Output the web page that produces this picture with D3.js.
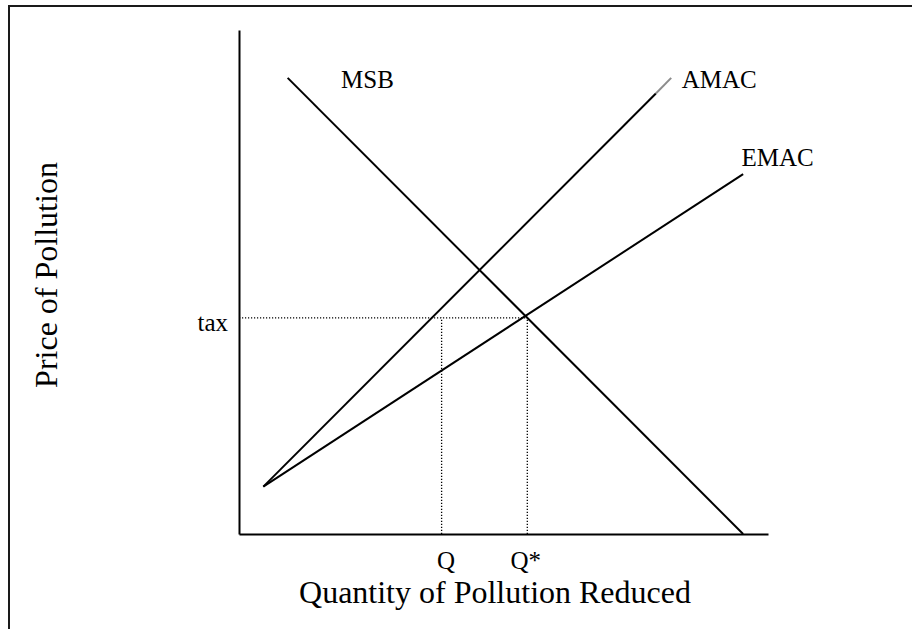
<!DOCTYPE html>
<meta charset="utf-8">
<style>
  body {
    margin: 0;
    background-color: white;
  }

  svg text {
    font-family: "Liberation Serif", "Times New Roman", serif;
    fill: #000;
  }

  .frame {
    fill: none;
    stroke: #1a1a1a;
    stroke-width: 2px;
  }

  .axis path {
    stroke: #000;
    stroke-width: 2px;
  }

  .axis text {
    font-size: 25px;
  }

  .curve {
    fill: none;
    stroke: #000;
    stroke-width: 2px;
  }

  .guide {
    fill: none;
    stroke: #000;
    stroke-width: 1.3px;
    stroke-dasharray: 1.2, 1.8;
  }

  .title {
    font-size: 32px;
  }

  .curve-label {
    font-size: 25px;
  }
</style>

<body>
  <div id="chart"></div>

  <script src="https://cdn.jsdelivr.net/npm/d3@7"></script>

  <script>
    // curves (x = quantity reduced, y = price), both on 0..10
    var curveNames = ["MSB", "AMAC", "EMAC"];
    var msb = [[0.92, 9.05], [9.53, 0]];
    var amac = [[0.46, 0.94], [7.88, 8.74]];
    var amacTip = [[7.88, 8.74], [8.17, 9.05]]; // last bit is drawn grey in the original
    var emac = [[0.46, 0.94], [9.53, 7.14]];

    // tax level and the two quantities
    var taxLevel = 4.29;
    var qValues = [3.83, 5.45];
    var qLabels = ["Q", "Q*"];
    var yTickLabels = ["tax"];

    var width = 912, height = 629;

    var svg = d3.select("#chart").append("svg")
      .attr("width", width)
      .attr("height", height);

    // the outer box runs off the right and bottom of the picture
    svg.append("rect")
      .attr("class", "frame")
      .attr("x", 9)
      .attr("y", 6)
      .attr("width", 1000)
      .attr("height", 1000);

    var x = d3.scaleLinear().domain([0, 10]).range([239, 768]);
    var y = d3.scaleLinear().domain([0, 10]).range([534, 30]);

    var line = d3.line()
      .x(d => x(d[0]))
      .y(d => y(d[1]));

    // dotted guides
    svg.append("path")
      .attr("class", "guide")
      .attr("d", line([[0, taxLevel], [qValues[1], taxLevel]]));

    svg.selectAll(".qguide")
      .data(qValues)
      .enter().append("path")
      .attr("class", "guide qguide")
      .attr("d", d => line([[d, 0], [d, taxLevel]]));

    // axes
    svg.append("g")
      .attr("class", "axis")
      .attr("transform", "translate(0," + y(0) + ")")
      .call(d3.axisBottom(x).tickValues(qValues)
        .tickFormat((d, i) => qLabels[i])
        .tickSize(0).tickSizeOuter(0).tickPadding(17))
      .call(g => g.selectAll("text").attr("dx", (d, i) => i == 0 ? "4" : "-2"));

    svg.append("g")
      .attr("class", "axis")
      .attr("transform", "translate(" + x(0) + ",0)")
      .call(d3.axisLeft(y).tickValues([taxLevel])
        .tickFormat((d, i) => yTickLabels[i])
        .tickSize(0).tickSizeOuter(0).tickPadding(11))
      .call(g => g.selectAll("text").attr("dy", "0.5em"));

    svg.selectAll(".axis").attr("font-size", null).attr("font-family", null);

    // curves
    svg.selectAll(".curve")
      .data([msb, amac, emac])
      .enter().append("path")
      .attr("class", "curve")
      .attr("d", line);

    svg.append("path")
      .attr("class", "curve")
      .style("stroke", "#8c8c8c")
      .attr("d", line(amacTip));

    // curve labels
    var labelSpots = [[1.93, 9.05], [8.37, 9.05], [9.5, 7.5]];
    svg.selectAll(".curve-label")
      .data(curveNames)
      .enter().append("text")
      .attr("class", "curve-label")
      .attr("x", (d, i) => x(labelSpots[i][0]))
      .attr("y", (d, i) => y(labelSpots[i][1]) + 10)
      .text(d => d);

    // axis titles
    svg.append("text")
      .attr("class", "title")
      .attr("x", 495)
      .attr("y", 603)
      .attr("text-anchor", "middle")
      .text("Quantity of Pollution Reduced");

    svg.append("text")
      .attr("class", "title")
      .attr("transform", "translate(57,275) rotate(-90)")
      .attr("text-anchor", "middle")
      .text("Price of Pollution");
  </script>
</body>

</html>
